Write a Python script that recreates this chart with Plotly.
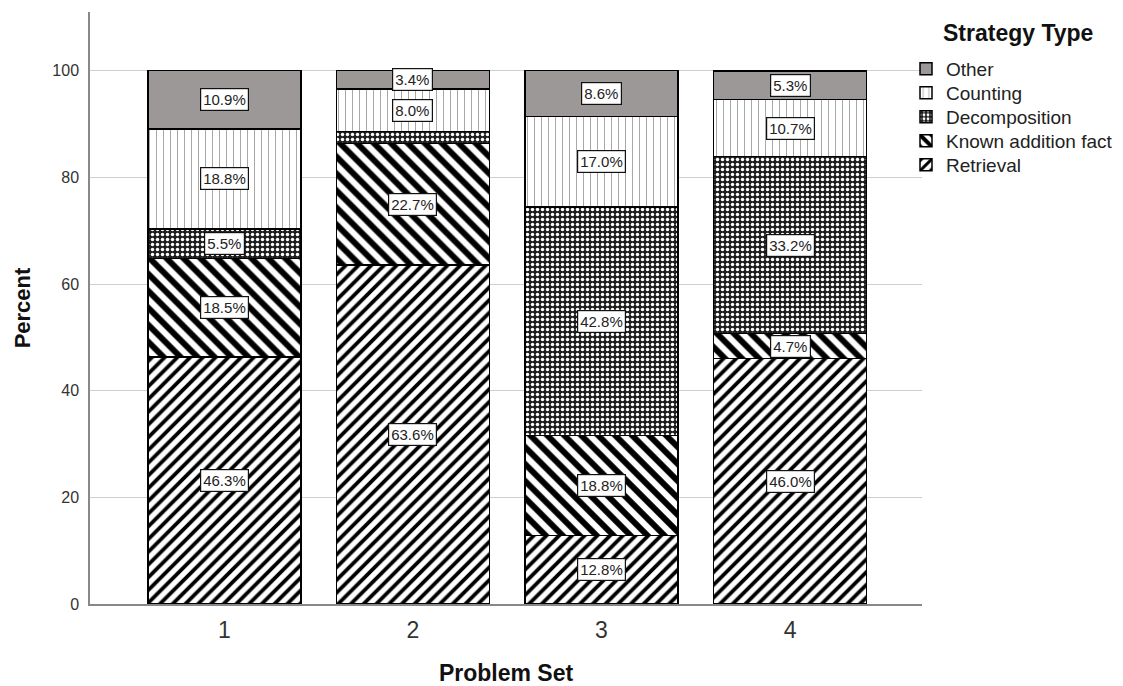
import plotly.graph_objects as go

problem_sets = ["1", "2", "3", "4"]
retrieval = [46.3, 63.6, 12.8, 46.0]
known_fact = [18.5, 22.7, 18.8, 4.7]
decomposition = [5.5, 2.3, 42.8, 33.2]
counting = [18.8, 8.0, 17.0, 10.7]
other = [10.9, 3.4, 8.6, 5.3]
y_ticks = [0, 20, 40, 60, 80, 100]

series = [
    ("Retrieval", retrieval, dict(shape="/", fgcolor="black", bgcolor="white", size=9, solidity=0.42)),
    ("Known addition fact", known_fact, dict(shape="\\", fgcolor="black", bgcolor="white", size=12, solidity=0.5)),
    ("Decomposition", decomposition, dict(shape=".", fgcolor="white", bgcolor="#1e1e1e", size=5, solidity=0.38)),
    ("Counting", counting, dict(shape="|", fgcolor="#a8a8a8", bgcolor="white", size=7, solidity=0.15)),
    ("Other", other, None),
]

# page geometry (body has an 8px offset)
W, H = 1115, 678
ML, MR, MT, MB = 82, 201, 4, 82
plot_left, plot_right = 8 + ML, 8 + W - MR
plot_top, plot_bottom = 8 + MT, 8 + H - MB


def px_x(px):
    return (px - plot_left) / (plot_right - plot_left)


def px_y(py):
    return (plot_bottom - py) / (plot_bottom - plot_top)


legend_rows = {"Other": 69, "Counting": 93, "Decomposition": 117,
               "Known addition fact": 141, "Retrieval": 165}

fig = go.Figure()
layout_legends = {}
for k, (name, vals, pat) in enumerate(series):
    marker = dict(line=dict(color="black", width=1.5))
    if pat is None:
        marker["color"] = "#9c9898"
    else:
        marker["color"] = "white"
        marker["pattern"] = dict(fillmode="replace", **pat)
    lg = "legend" if k == 0 else f"legend{k + 1}"
    fig.add_trace(go.Bar(name=name, x=problem_sets, y=vals, marker=marker,
                         width=0.81, legend=lg))
    layout_legends[lg] = dict(
        x=px_x(906), y=px_y(legend_rows[name]), xanchor="left", yanchor="middle",
        font=dict(size=19, color="#222"), bgcolor="rgba(0,0,0,0)",
        itemwidth=30,
    )

# labels
annotations = []
for i, cat in enumerate(problem_sets):
    base = 0.0
    for name, vals, pat in series:
        v = vals[i]
        if v >= 3:
            annotations.append(dict(
                x=i, y=base + v / 2, xref="x", yref="y", text=f"{v:.1f}%",
                showarrow=False, bgcolor="white", bordercolor="#111", borderwidth=1.2,
                borderpad=2, font=dict(size=15, color="#222", family="Liberation Sans, Arial")))
        base += v

annotations.append(dict(
    x=px_x(941), y=px_y(33), xref="paper", yref="paper", xanchor="left", yanchor="middle",
    text="<b>Strategy Type</b>", showarrow=False,
    font=dict(size=23, color="#111", family="Liberation Sans, Arial")))

fig.update_layout(
    barmode="stack",
    width=W, height=H,
    margin=dict(l=ML, r=MR, t=MT, b=MB, autoexpand=False),
    plot_bgcolor="white", paper_bgcolor="white",
    font=dict(family="Liberation Sans, Arial", color="#222"),
    annotations=annotations,
    showlegend=True,
    **layout_legends,
)
fig.update_xaxes(
    title=dict(text="<b>Problem Set</b>", font=dict(size=23, color="#111"), standoff=24),
    tickfont=dict(size=23, color="#333"),
    range=[-0.713, 3.70],
    showline=True, linecolor="#888", linewidth=1.5,
    ticks="", showgrid=False, ticklabelstandoff=5,
)
fig.update_yaxes(
    title=dict(text="<b>Percent</b>", font=dict(size=22, color="#111"), standoff=16),
    tickvals=y_ticks, tickfont=dict(size=16, color="#333"),
    range=[0, 111],
    showline=True, linecolor="#888", linewidth=1.5,
    showgrid=True, gridcolor="#cfcfcf", gridwidth=1,
    zeroline=False, ticks="", ticklabelstandoff=6,
)
fig.write_html("out.html")
